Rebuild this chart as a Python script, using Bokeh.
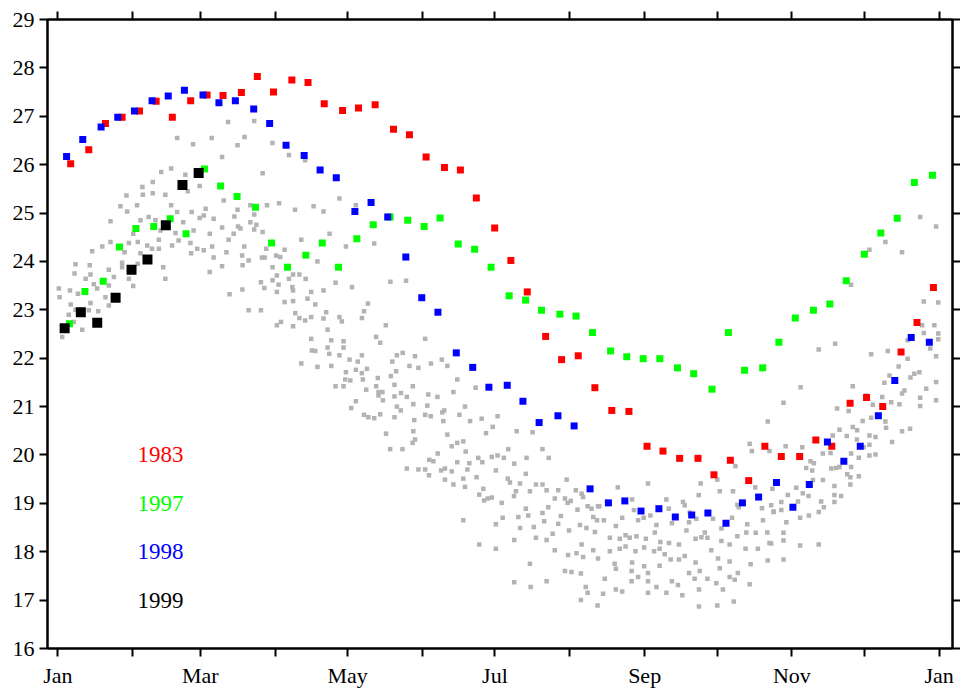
from bokeh.plotting import figure
from bokeh.models import LinearAxis, FixedTicker, Label
from bokeh.embed import file_html
from bokeh.resources import INLINE

# ---------------- data ----------------
month_ticks = [0, 31, 59, 90, 120, 151, 181, 212, 243, 273, 304, 334, 365]
month_labels = ["Jan", "", "Mar", "", "May", "", "Jul", "", "Sep", "", "Nov", "", "Jan"]
temp_ticks = list(range(16, 30))

years = ["1983", "1997", "1998", "1999"]
year_colors = ["#ff0000", "#00ff00", "#0000ff", "#000000"]

day_1983 = [5.3, 12.8, 19.7, 26.6, 33.8, 40.7, 47.4, 55.0, 61.8, 68.4, 76.0, 82.6, 89.3, 96.9,
            103.6, 110.3, 117.9, 124.5, 131.4, 139.0, 145.6, 152.5, 160.1, 166.7, 173.3, 180.9,
            187.6, 194.4, 202.0, 208.6, 215.5, 222.4, 229.4, 236.5, 244.0, 250.6, 257.5, 265.1,
            271.7, 278.5, 286.1, 292.8, 299.6, 307.2, 313.9, 320.5, 328.1, 334.9, 341.6, 349.2,
            355.8, 362.6]
sst_1983 = [26.02, 26.31, 26.85, 26.98, 27.11, 27.31, 26.98, 27.32, 27.44, 27.43, 27.49, 27.82,
            27.50, 27.75, 27.70, 27.26, 27.12, 27.17, 27.24, 26.73, 26.62, 26.16, 25.94, 25.89,
            25.31, 24.69, 24.02, 23.37, 22.45, 21.97, 22.05, 21.39, 20.92, 20.90, 20.18, 20.08,
            19.93, 19.93, 19.59, 19.89, 19.47, 20.18, 19.97, 19.97, 20.31, 20.18, 21.07, 21.19,
            21.00, 22.13, 22.74, 23.46]

day_1997 = [4.8, 11.2, 18.8, 25.5, 32.3, 39.7, 46.5, 53.1, 60.7, 67.4, 74.2, 81.8, 88.5, 95.1,
            102.7, 109.5, 116.2, 123.8, 130.6, 137.6, 144.9, 151.7, 158.3, 165.8, 172.6, 179.4,
            186.9, 193.7, 200.3, 207.9, 214.6, 221.4, 228.9, 235.6, 242.4, 249.3, 256.6, 263.3,
            270.9, 277.7, 284.4, 291.9, 298.6, 305.4, 312.9, 319.7, 326.5, 334.0, 340.8, 347.6,
            354.7, 362.2]
sst_1997 = [22.71, 23.38, 23.59, 24.30, 24.68, 24.72, 24.88, 24.57, 25.91, 25.56, 25.34, 25.12,
            24.38, 23.88, 24.13, 24.38, 23.88, 24.47, 24.76, 24.92, 24.85, 24.72, 24.90, 24.36,
            24.25, 23.88, 23.29, 23.20, 22.99, 22.91, 22.87, 22.53, 22.15, 22.03, 21.99, 21.99,
            21.80, 21.68, 21.36, 22.53, 21.75, 21.80, 22.33, 22.83, 22.99, 23.12, 23.60, 24.15,
            24.59, 24.89, 25.63, 25.78]

day_1998 = [3.6, 10.3, 17.9, 24.8, 31.7, 39.0, 45.7, 52.4, 60.1, 66.7, 73.5, 81.1, 87.7, 94.5,
            102.0, 108.6, 115.3, 123.0, 129.7, 136.6, 144.1, 150.7, 157.4, 165.0, 171.8, 178.5,
            186.1, 192.6, 199.3, 207.1, 213.8, 220.4, 228.0, 234.8, 241.5, 248.9, 255.7, 262.5,
            269.2, 276.7, 283.5, 290.2, 297.6, 304.4, 311.2, 318.7, 325.5, 332.3, 339.8, 346.6,
            353.4, 360.9]
sst_1998 = [26.17, 26.52, 26.78, 26.98, 27.11, 27.32, 27.42, 27.54, 27.44, 27.28, 27.32, 27.15,
            26.85, 26.40, 26.19, 25.89, 25.73, 25.03, 25.22, 24.92, 24.09, 23.25, 22.95, 22.11,
            21.81, 21.40, 21.44, 21.11, 20.67, 20.81, 20.60, 19.30, 19.01, 19.05, 18.84, 18.89,
            18.72, 18.76, 18.80, 18.59, 19.01, 19.13, 19.43, 18.92, 19.39, 20.27, 19.87, 20.18,
            20.81, 21.54, 22.43, 22.33]

day_1999 = [2.8, 9.5, 16.3, 23.9, 30.5, 37.1, 44.7, 51.6, 58.3]
sst_1999 = [22.62, 22.95, 22.73, 23.25, 23.83, 24.04, 24.75, 25.58, 25.83]

# other years (grey cloud): (day of year, SST)
other_years = [
    (70.5, 26.88), (49.4, 26.55), (56.0, 26.42), (63.7, 26.55), (74.4, 26.40), (68.0, 26.16),
    (42.8, 25.85), (46.9, 25.92), (52.8, 25.79), (39.3, 25.64), (58.7, 25.56), (35.0, 25.54),
    (28.4, 25.36), (35.2, 25.38), (39.3, 25.41), (44.5, 25.38), (53.8, 25.45), (68.7, 25.26),
    (25.9, 25.14), (32.8, 25.16), (28.7, 25.03), (46.9, 25.16), (49.4, 25.02), (55.4, 25.02),
    (61.2, 25.09), (21.8, 24.83), (34.2, 24.85), (37.6, 24.92), (40.4, 24.85), (51.9, 24.81),
    (58.7, 24.90), (60.4, 24.95), (64.5, 24.88), (73.1, 24.93), (68.0, 24.70), (74.6, 24.72),
    (31.2, 24.57), (42.5, 24.64), (48.7, 24.59), (56.2, 24.64), (62.9, 24.57), (72.8, 24.57),
    (21.8, 24.40), (29.4, 24.38), (33.1, 24.40), (37.0, 24.33), (41.8, 24.45), (47.3, 24.33),
    (50.0, 24.43), (54.9, 24.38), (63.9, 24.31), (70.7, 24.45), (14.2, 24.21), (18.4, 24.31),
    (27.6, 24.19), (34.2, 24.17), (39.0, 24.26), (41.8, 24.26), (55.2, 24.17), (57.7, 24.26),
    (60.4, 24.23), (69.8, 24.19), (7.3, 23.94), (13.2, 23.92), (26.6, 23.97), (33.1, 23.95),
    (43.6, 23.88), (64.5, 24.08), (68.0, 23.90), (6.9, 23.75), (13.5, 23.73), (21.1, 23.83),
    (26.6, 23.88), (62.9, 23.78), (11.5, 23.64), (23.2, 23.68), (29.4, 23.64), (44.5, 23.64),
    (14.9, 23.53), (31.2, 23.49), (0.4, 23.44), (5.0, 23.40), (8.3, 23.33), (16.3, 23.44),
    (21.1, 23.50), (0.7, 23.26), (5.3, 23.11), (13.5, 23.14), (19.7, 23.26), (21.1, 23.09),
    (71.1, 23.32), (7.3, 23.00), (12.8, 22.99), (16.7, 22.97), (4.5, 22.90), (6.6, 22.75),
    (10.1, 22.59), (1.8, 22.44),
    (81.3, 26.90), (77.3, 26.57), (88.9, 26.45), (95.7, 26.20), (102.4, 26.09), (84.8, 25.82),
    (116.6, 25.30), (123.4, 25.16), (74.4, 25.07), (79.7, 25.16), (86.6, 25.16), (91.6, 25.20),
    (98.2, 25.07), (105.9, 25.14), (110.0, 25.03), (81.3, 24.97), (79.7, 24.81), (82.2, 24.76),
    (75.6, 24.68), (84.8, 24.61), (81.3, 24.66), (112.5, 24.57), (100.8, 24.45), (119.3, 24.31),
    (131.0, 24.37), (77.2, 24.31), (86.3, 24.26), (93.9, 24.24), (90.4, 24.12), (92.1, 24.09),
    (76.3, 24.12), (79.0, 24.02), (84.5, 24.08), (85.6, 24.08), (76.5, 23.92), (88.9, 23.88),
    (107.5, 24.00), (97.4, 23.73), (100.0, 23.73), (90.7, 23.71), (102.6, 23.64), (88.9, 23.61),
    (95.7, 23.64), (84.1, 23.57), (91.4, 23.52), (85.5, 23.45), (97.1, 23.47), (76.4, 23.42),
    (90.7, 23.37), (97.4, 23.40), (104.9, 23.37), (110.0, 23.40), (115.0, 23.56), (121.8, 23.47),
    (137.7, 23.58), (144.2, 23.60), (93.9, 23.16), (97.4, 23.18), (103.4, 23.23), (106.6, 23.11),
    (128.4, 23.13), (79.0, 22.99), (84.1, 22.99), (98.3, 22.93), (100.0, 22.83), (102.4, 22.78),
    (104.9, 22.85), (110.0, 22.82), (111.1, 22.95), (116.6, 22.85), (117.6, 22.76), (125.9, 22.83),
    (126.8, 22.97), (90.7, 22.68), (92.4, 22.75), (97.4, 22.66), (111.7, 22.59), (135.8, 22.68),
    (104.9, 22.40), (113.2, 22.37), (118.3, 22.35), (131.8, 22.44), (133.5, 22.32), (105.2, 22.16),
    (106.6, 22.15), (111.7, 22.22), (118.3, 22.22), (112.4, 22.09), (116.6, 22.06), (120.8, 21.97),
    (124.2, 21.93), (125.9, 22.06), (140.4, 22.06), (142.8, 22.11), (147.9, 22.04), (100.8, 21.89),
    (107.5, 21.82), (113.2, 21.84), (123.4, 21.76), (125.9, 21.69), (128.0, 21.78), (119.3, 21.71),
    (138.5, 21.93), (145.6, 21.84), (149.3, 21.80), (119.0, 21.56), (121.1, 21.54), (126.3, 21.56),
    (132.5, 21.59), (137.9, 21.63), (140.1, 21.73), (115.0, 21.42), (118.3, 21.42), (127.7, 21.35),
    (131.8, 21.42), (132.8, 21.30), (134.4, 21.30), (139.4, 21.45), (147.0, 21.42), (123.4, 21.11),
    (121.5, 20.97), (132.8, 21.23), (134.6, 21.13), (139.4, 21.21), (142.1, 21.28), (144.5, 21.20),
    (147.2, 21.05), (140.4, 21.00), (126.8, 20.83), (128.6, 20.78), (131.0, 20.76), (133.5, 20.84),
    (139.4, 20.78), (142.0, 20.92), (147.6, 20.72), (135.9, 20.44), (137.6, 20.12), (142.7, 20.12),
    (144.5, 19.72),
    (152.1, 22.40), (154.5, 21.89), (159.0, 21.97), (161.3, 21.84), (165.4, 21.56), (153.4, 21.25),
    (157.2, 21.20), (163.8, 21.30), (173.0, 21.39), (153.0, 21.02), (168.6, 21.00), (152.1, 20.83),
    (154.4, 20.80), (159.2, 20.88), (160.0, 20.92), (166.3, 20.83), (175.5, 20.75), (182.1, 20.80),
    (159.6, 20.70), (170.7, 20.70), (180.1, 20.58), (177.3, 20.45), (190.0, 20.49), (196.6, 20.47),
    (147.2, 20.49), (147.9, 20.32), (146.9, 20.25), (161.3, 20.42), (163.1, 20.18), (165.4, 20.25),
    (167.9, 20.28), (168.9, 20.07), (186.5, 20.12), (200.7, 20.12), (157.3, 20.03), (153.8, 19.90),
    (155.5, 19.87), (165.4, 19.85), (170.4, 19.83), (174.1, 19.94), (175.8, 19.85), (179.7, 19.96),
    (182.1, 19.99), (184.7, 19.94), (189.0, 19.82), (194.1, 19.94), (203.3, 19.94), (149.3, 19.70),
    (152.1, 19.70), (153.7, 19.58), (158.7, 19.68), (160.3, 19.72), (163.1, 19.66), (169.6, 19.70),
    (181.4, 19.68), (193.8, 19.61), (160.3, 19.49), (163.8, 19.39), (167.9, 19.51), (168.6, 19.34),
    (173.4, 19.54), (186.3, 19.51), (187.2, 19.43), (191.4, 19.41), (198.0, 19.39), (200.7, 19.39),
    (210.7, 19.49), (214.5, 19.27), (176.2, 19.30), (174.5, 19.18), (189.7, 19.25), (195.5, 19.25),
    (202.4, 19.27), (207.2, 19.27), (216.9, 19.20), (176.5, 19.06), (178.0, 19.10), (179.7, 19.12),
    (183.8, 19.01), (188.9, 19.15), (205.8, 19.10), (210.0, 19.10), (212.4, 19.05), (217.5, 19.13),
    (193.8, 18.89), (203.1, 18.92), (211.1, 19.01), (215.2, 18.87), (219.4, 18.94), (223.7, 18.94),
    (167.9, 18.65), (181.4, 18.57), (184.2, 18.70), (190.7, 18.72), (194.8, 18.75), (200.7, 18.80),
    (208.3, 18.74), (221.7, 18.72), (191.4, 18.49), (197.1, 18.51), (201.4, 18.63), (207.2, 18.58),
    (211.7, 18.44), (216.2, 18.55), (218.9, 18.49), (222.4, 18.41), (204.9, 18.37), (198.0, 18.29),
    (189.0, 18.24), (202.4, 18.24), (174.5, 18.15), (181.4, 18.06), (216.9, 18.15), (205.8, 18.03),
    (221.7, 18.03), (211.3, 17.93), (214.8, 17.97), (217.5, 17.89), (223.7, 17.86), (195.5, 17.75),
    (210.0, 17.60), (212.7, 17.58), (216.6, 17.55), (189.0, 17.37), (202.4, 17.39), (195.8, 17.27),
    (218.6, 17.27), (219.4, 17.15), (216.6, 17.00), (223.5, 16.89),
    (294.0, 20.69), (286.5, 20.23), (287.4, 20.08), (294.7, 20.08), (280.6, 19.77), (244.4, 19.41),
    (266.2, 19.41), (273.1, 19.49), (231.9, 19.33), (274.1, 19.25), (279.6, 19.25), (265.4, 19.17),
    (288.8, 19.33), (295.9, 19.30), (224.2, 18.94), (237.8, 19.08), (252.0, 19.08), (258.9, 19.03),
    (259.6, 18.96), (281.4, 18.97), (282.0, 18.92), (221.0, 18.89), (238.6, 18.86), (245.4, 18.75),
    (253.0, 18.89), (261.7, 18.81), (264.4, 18.68), (271.3, 18.68), (279.2, 18.70), (291.6, 18.90),
    (296.5, 18.83), (223.3, 18.65), (226.1, 18.65), (233.7, 18.70), (240.3, 18.65), (242.6, 18.70),
    (247.9, 18.55), (254.3, 18.59), (261.4, 18.61), (274.8, 18.48), (285.5, 18.57), (292.0, 18.65),
    (231.1, 18.53), (247.2, 18.40), (260.3, 18.44), (267.9, 18.40), (281.4, 18.32), (285.1, 18.40),
    (289.0, 18.39), (293.8, 18.40), (228.6, 18.29), (232.7, 18.27), (235.1, 18.34), (236.8, 18.29),
    (239.6, 18.32), (243.5, 18.27), (249.5, 18.20), (253.1, 18.18), (257.2, 18.15), (264.1, 18.27),
    (266.5, 18.30), (269.0, 18.29), (274.8, 18.22), (294.7, 18.18), (228.6, 18.01), (232.7, 18.06),
    (235.1, 18.11), (239.2, 18.01), (242.8, 18.09), (246.9, 18.01), (249.2, 18.06), (251.3, 17.95),
    (253.8, 17.84), (257.2, 17.84), (259.6, 17.91), (270.6, 18.03), (278.2, 18.15), (284.8, 18.06),
    (289.9, 18.06), (230.6, 17.75), (237.8, 17.78), (242.8, 17.70), (249.2, 17.71), (264.1, 17.78),
    (273.4, 17.86), (274.1, 17.66), (278.2, 17.80), (286.9, 17.74), (294.0, 17.82), (231.1, 17.65),
    (237.6, 17.60), (244.4, 17.56), (261.4, 17.56), (265.8, 17.60), (281.6, 17.56), (226.5, 17.44),
    (237.6, 17.39), (240.3, 17.48), (244.4, 17.39), (254.3, 17.39), (256.8, 17.31), (263.7, 17.44),
    (269.0, 17.44), (272.7, 17.35), (278.2, 17.48), (280.3, 17.42), (286.5, 17.33), (231.1, 17.22),
    (233.7, 17.18), (244.4, 17.15), (247.9, 17.27), (252.0, 17.15), (258.6, 17.10), (265.5, 17.22),
    (275.4, 17.22), (225.8, 17.13), (265.5, 16.87), (273.1, 16.89), (279.9, 16.97),
    (357.1, 24.92), (363.7, 24.72), (342.7, 24.40), (349.6, 24.19), (336.1, 24.24), (328.5, 23.52),
    (358.6, 23.17), (364.6, 23.15), (357.9, 22.68), (363.0, 22.68), (358.6, 22.52), (364.6, 22.51),
    (364.6, 22.39), (351.9, 22.37), (361.3, 22.20), (315.1, 22.18), (321.9, 22.30), (336.8, 22.08),
    (343.7, 22.15), (351.9, 21.99), (363.7, 22.04), (348.2, 21.83), (353.1, 21.60), (354.7, 21.68),
    (356.8, 21.71), (344.4, 21.64), (342.3, 21.49), (363.7, 21.51), (359.6, 21.37), (350.6, 21.33),
    (349.6, 21.27), (329.2, 21.42), (307.6, 21.40), (300.5, 21.08), (348.5, 21.05), (345.1, 21.09),
    (357.1, 21.18), (357.1, 21.01), (363.7, 21.13), (334.7, 21.23), (322.7, 20.96), (327.5, 20.91),
    (337.5, 21.04), (341.4, 21.20), (333.3, 20.70), (336.8, 20.77), (342.7, 20.69), (343.0, 20.56),
    (329.2, 20.58), (331.0, 20.51), (323.7, 20.52), (326.7, 20.39), (320.9, 20.40), (336.1, 20.40),
    (338.6, 20.37), (349.6, 20.49), (352.9, 20.54), (345.5, 20.27), (330.9, 20.32), (333.7, 20.16),
    (336.1, 20.21), (336.1, 19.99), (338.6, 20.01), (328.5, 20.03), (331.7, 19.94), (301.4, 20.18),
    (308.3, 20.16), (316.8, 20.03), (320.0, 20.04), (311.7, 19.87), (313.1, 19.83), (309.9, 19.73),
    (312.4, 19.68), (320.3, 19.72), (322.3, 19.73), (323.7, 19.75), (328.5, 19.75), (326.9, 19.60),
    (328.2, 19.54), (331.7, 19.56), (316.8, 19.48), (312.7, 19.48), (328.2, 19.39), (321.6, 19.36),
    (305.8, 19.32), (308.5, 19.21), (310.9, 19.15), (302.3, 19.17), (321.6, 19.17), (324.4, 19.15),
    (316.1, 19.04), (317.2, 18.92), (321.6, 19.03), (306.5, 19.04), (299.6, 19.03), (295.4, 18.96),
    (296.4, 18.82), (299.6, 18.86), (315.1, 18.82), (311.0, 18.75), (307.4, 18.70), (301.7, 18.61),
    (300.5, 18.39), (300.5, 18.23), (307.4, 18.13), (315.1, 18.15), (295.4, 18.17), (300.5, 17.84),
]
other_day = [d for d, t in other_years]
other_sst = [t for d, t in other_years]

# ---------------- figure ----------------
FONT = "Liberation Serif"

p = figure(width=960, height=690, x_range=(-4.3, 370.5), y_range=(16, 29),
           output_backend="svg", toolbar_location=None,
           x_axis_type=None, y_axis_type=None,
           min_border_left=47, min_border_right=7, min_border_top=19, min_border_bottom=42)
p.xgrid.visible = False
p.ygrid.visible = False
p.outline_line_color = "black"
p.outline_line_width = 2
p.background_fill_color = "white"
p.border_fill_color = "white"


def style_axis(ax, labels=True):
    ax.axis_line_color = "black"
    ax.axis_line_width = 2
    ax.major_tick_line_color = "black"
    ax.major_tick_line_width = 2
    ax.major_tick_in = 0
    ax.major_tick_out = 8
    ax.minor_tick_line_color = None
    ax.major_label_text_font = FONT
    ax.major_label_text_color = "black"
    if labels:
        ax.major_label_text_font_size = "22px"
    else:
        ax.major_label_text_font_size = "0px"
        ax.major_label_standoff = 0


xticker = FixedTicker(ticks=month_ticks)
overrides = {t: lab for t, lab in zip(month_ticks, month_labels)}

xb = LinearAxis(ticker=xticker, major_label_overrides=overrides)
style_axis(xb)
xb.major_label_standoff = 6
p.add_layout(xb, "below")

xt = LinearAxis(ticker=FixedTicker(ticks=month_ticks),
                major_label_overrides={t: "" for t in month_ticks})
style_axis(xt, labels=False)
p.add_layout(xt, "above")

yl = LinearAxis(ticker=FixedTicker(ticks=temp_ticks))
style_axis(yl)
yl.major_label_standoff = 5
p.add_layout(yl, "left")

yr = LinearAxis(ticker=FixedTicker(ticks=temp_ticks),
                major_label_overrides={t: "" for t in temp_ticks})
style_axis(yr, labels=False)
p.add_layout(yr, "right")

# grey cloud of other years
p.scatter(other_day, other_sst, marker="square", size=4.5,
          fill_color="#b3b3b3", line_color=None)

# highlighted years
p.scatter(day_1997, sst_1997, marker="square", size=7, fill_color=year_colors[1], line_color=None)
p.scatter(day_1983, sst_1983, marker="square", size=7, fill_color=year_colors[0], line_color=None)
p.scatter(day_1998, sst_1998, marker="square", size=7, fill_color=year_colors[2], line_color=None)
p.scatter(day_1999, sst_1999, marker="square", size=10, fill_color=year_colors[3], line_color=None)

# year key
for yr_txt, col, ty in zip(years, year_colors, [20, 19, 18, 17]):
    p.add_layout(Label(x=33, y=ty, text=yr_txt, text_color=col, text_font=FONT,
                       text_font_size="23px", text_baseline="middle", text_align="left"))

open("out.html", "w").write(file_html(p, INLINE))
